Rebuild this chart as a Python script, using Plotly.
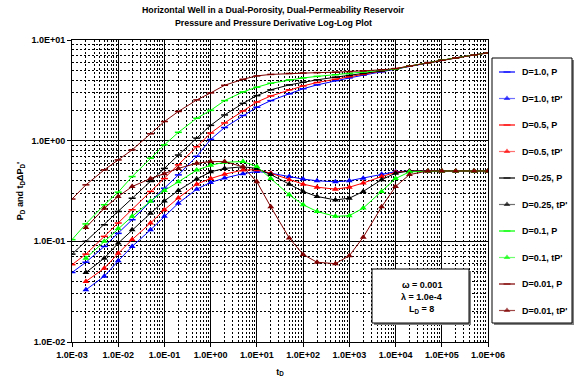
import plotly.graph_objects as go

# Dimensionless time for the pressure curves; the derivative curves start one point later
t_p = [1e-3, 2e-3, 5e-3, 1e-2, 2e-2, 5e-2, 0.1, 0.2, 0.5, 1, 2, 5, 10, 20, 50,
       100, 200, 500, 1e3, 2e3, 5e3, 1e4, 2e4, 5e4, 1e5, 2e5, 5e5, 1e6]
t_d = t_p[1:]

# Dimensionless pressure P_D
p_d100 = [0.049, 0.062, 0.089, 0.12, 0.164, 0.249, 0.337, 0.457, 0.70, 1.03, 1.35, 1.78, 2.15,
          2.5, 2.92, 3.28, 3.58, 3.95, 4.2, 4.47, 4.83, 5.15, 5.5, 5.95, 6.3, 6.65, 7.1, 7.45]
p_d050 = [0.0586, 0.0746, 0.112, 0.152, 0.206, 0.313, 0.42, 0.575, 0.87, 1.19, 1.5, 1.97, 2.42,
          2.78, 3.2, 3.5, 3.78, 4.08, 4.32, 4.55, 4.88, 5.15, 5.5, 5.95, 6.3, 6.65, 7.1, 7.45]
p_d025 = [0.0746, 0.1, 0.146, 0.198, 0.268, 0.393, 0.53, 0.72, 1.06, 1.42, 1.8, 2.35, 2.8,
          3.2, 3.58, 3.8, 4.02, 4.27, 4.45, 4.65, 4.92, 5.15, 5.5, 5.95, 6.3, 6.65, 7.1, 7.45]
p_d010 = [0.104, 0.149, 0.231, 0.308, 0.44, 0.67, 0.91, 1.21, 1.67, 2.0, 2.5, 3.05, 3.4,
          3.72, 4.02, 4.2, 4.35, 4.52, 4.65, 4.8, 5.0, 5.15, 5.5, 5.95, 6.3, 6.65, 7.1, 7.45]
p_d001 = [0.263, 0.364, 0.513, 0.644, 0.81, 1.17, 1.55, 1.95, 2.54, 2.98, 3.55, 4.07, 4.4,
          4.55, 4.65, 4.7, 4.74, 4.79, 4.85, 4.92, 5.05, 5.2, 5.5, 5.95, 6.3, 6.65, 7.1, 7.45]

# Pressure derivative t_D * dP_D/dt_D
dp_d100 = [0.033, 0.045, 0.064, 0.089, 0.13, 0.177, 0.239, 0.33, 0.385, 0.425, 0.47, 0.495, 0.475,
           0.44, 0.415, 0.40, 0.39, 0.40, 0.424, 0.465, 0.492, 0.5, 0.5, 0.5, 0.5, 0.5, 0.5]
dp_d050 = [0.040, 0.054, 0.076, 0.104, 0.152, 0.206, 0.27, 0.37, 0.42, 0.465, 0.51, 0.515, 0.475,
           0.41, 0.37, 0.345, 0.33, 0.345, 0.38, 0.44, 0.485, 0.5, 0.5, 0.5, 0.5, 0.5, 0.5]
dp_d025 = [0.049, 0.068, 0.096, 0.13, 0.19, 0.252, 0.32, 0.415, 0.49, 0.53, 0.55, 0.53, 0.46,
           0.37, 0.313, 0.279, 0.258, 0.268, 0.313, 0.41, 0.475, 0.5, 0.5, 0.5, 0.5, 0.5, 0.5]
dp_d010 = [0.068, 0.10, 0.134, 0.177, 0.25, 0.32, 0.39, 0.51, 0.57, 0.61, 0.62, 0.553, 0.42,
           0.29, 0.231, 0.198, 0.177, 0.18, 0.214, 0.313, 0.42, 0.49, 0.5, 0.5, 0.5, 0.5, 0.5]
dp_d001 = [0.137, 0.213, 0.279, 0.35, 0.42, 0.468, 0.53, 0.597, 0.62, 0.62, 0.55, 0.39, 0.22,
           0.108, 0.074, 0.062, 0.06, 0.072, 0.11, 0.22, 0.35, 0.46, 0.5, 0.5, 0.5, 0.5, 0.5]

x_tickvals = [1e-3, 1e-2, 1e-1, 1e0, 1e1, 1e2, 1e3, 1e4, 1e5, 1e6]
x_ticktext = ["1.0E-03", "1.0E-02", "1.0E-01", "1.0E+00", "1.0E+01",
              "1.0E+02", "1.0E+03", "1.0E+04", "1.0E+05", "1.0E+06"]
y_tickvals = [1e-2, 1e-1, 1e0, 1e1]
y_ticktext = ["1.0E-02", "1.0E-01", "1.0E+00", "1.0E+01"]

# name, times, values, colour, legend line colour, kind
series = [
    ("D=1.0, P", t_p, p_d100, "#0000FF", "#0000FF", "P"),
    ("D=1.0, tP'", t_d, dp_d100, "#0000FF", "#7070FF", "D"),
    ("D=0.5, P", t_p, p_d050, "#FF0000", "#FF0000", "P"),
    ("D=0.5, tP'", t_d, dp_d050, "#FF0000", "#FF7070", "D"),
    ("D=0.25, P", t_p, p_d025, "#000000", "#000000", "P"),
    ("D=0.25, tP'", t_d, dp_d025, "#000000", "#707070", "D"),
    ("D=0.1, P", t_p, p_d010, "#00FF00", "#00FF00", "P"),
    ("D=0.1, tP'", t_d, dp_d010, "#00FF00", "#70FF70", "D"),
    ("D=0.01, P", t_p, p_d001, "#800000", "#800000", "P"),
    ("D=0.01, tP'", t_d, dp_d001, "#800000", "#A04848", "D"),
]

FONT = "Arial, Liberation Sans, sans-serif"
WIDTH, HEIGHT = 574, 383

# Pixel helpers for a zero-margin page
def fx(xp):
    return xp / WIDTH

def fy(yp):
    return 1 - yp / HEIGHT

# Plot area (pixels) and legend panel (pixels)
PL, PR, PT, PB = 72, 488, 40, 342
LL, LR, LT, LB = 492, 572, 58, 323


def marker_for(kind, color, size_list=None):
    if kind == "P":
        return dict(symbol="line-ew", size=5 if size_list is None else size_list,
                    color=color, line=dict(color=color, width=1.5))
    return dict(symbol="triangle-up", size=6 if size_list is None else size_list,
                color=color, line=dict(width=0))


fig = go.Figure()
for name, x, y, color, lcolor, kind in series:
    fig.add_trace(go.Scatter(
        x=x, y=y, name=name, mode="lines+markers",
        line=dict(color=color, width=1), marker=marker_for(kind, color),
        showlegend=False, xaxis="x", yaxis="y",
    ))

# Legend panel drawn on its own pixel-scaled axes
item_y = [72 + 26.5 * i for i in range(len(series))]
for (name, x, y, color, lcolor, kind), iy in zip(series, item_y):
    fig.add_trace(go.Scatter(
        x=[499, 507, 515], y=[iy, iy, iy], mode="lines+markers",
        line=dict(color=lcolor, width=1.2),
        marker=marker_for(kind, color, [0, 5 if kind == "P" else 6, 0]),
        showlegend=False, hoverinfo="skip", xaxis="x2", yaxis="y2",
    ))
    fig.add_annotation(
        xref="x2", yref="y2", x=520, y=iy, text=name, showarrow=False,
        xanchor="left", yanchor="middle",
        font=dict(family=FONT, size=9, color="black", weight="bold"),
    )

axis_common = dict(
    type="log", showline=True, linecolor="black", linewidth=1, mirror=True,
    showgrid=True, gridcolor="black", gridwidth=1,
    ticks="outside", ticklen=4, tickcolor="black", tickwidth=1,
    tickfont=dict(family=FONT, size=9, color="black", weight="bold"),
    minor=dict(dtick="D1", showgrid=True, gridcolor="black", gridwidth=1,
               griddash="2px,2px", ticks=""),
    zeroline=False, fixedrange=True,
)

fig.update_layout(
    width=WIDTH, height=HEIGHT,
    margin=dict(l=0, r=0, t=0, b=0, autoexpand=False),
    paper_bgcolor="white", plot_bgcolor="white",
    font=dict(family=FONT, size=9, color="black"),
    showlegend=False,
    xaxis=dict(
        axis_common, domain=[fx(PL), fx(PR)], range=[-3, 6],
        tickvals=x_tickvals, ticktext=x_ticktext,
        title=dict(text="t<sub>D</sub>", standoff=9,
                   font=dict(family=FONT, size=9, weight="bold")),
    ),
    yaxis=dict(
        axis_common, domain=[fy(PB), fy(PT)], range=[-2, 1],
        tickvals=y_tickvals, ticktext=y_ticktext,
        title=dict(text="P<sub>D</sub> and t<sub>D</sub>ΔP<sub>D</sub>'", standoff=6,
                   font=dict(family=FONT, size=9, weight="bold")),
    ),
    xaxis2=dict(domain=[fx(LL), fx(LR)], range=[LL, LR], visible=False,
                fixedrange=True, anchor="y2"),
    yaxis2=dict(domain=[fy(LB), fy(LT)], range=[LB, LT], visible=False,
                fixedrange=True, anchor="x2"),
)

# Two-line chart title
for text, ty in [("Horizontal Well in a Dual-Porosity, Dual-Permeability Reservoir", 10),
                 ("Pressure and Pressure Derivative Log-Log Plot", 23)]:
    fig.add_annotation(
        xref="paper", yref="paper", x=fx(273), y=fy(ty), text=text, showarrow=False,
        xanchor="center", yanchor="middle",
        font=dict(family=FONT, size=8.8, color="black", weight="bold"),
    )

# Legend frame with drop shadow
fig.add_shape(type="rect", xref="paper", yref="paper",
              x0=fx(LL + 2), x1=fx(LR + 2), y0=fy(LB + 2), y1=fy(LT + 2),
              fillcolor="#808080", line=dict(width=0), layer="below")
fig.add_shape(type="rect", xref="paper", yref="paper",
              x0=fx(LL), x1=fx(LR), y0=fy(LB), y1=fy(LT),
              fillcolor="white", line=dict(color="black", width=1), layer="below")

# Parameter box with drop shadow
bx0, bx1, by0, by1 = 372, 469, 269, 323
fig.add_shape(type="rect", xref="paper", yref="paper",
              x0=fx(bx0 + 2), x1=fx(bx1 + 2), y0=fy(by1 + 2), y1=fy(by0 + 2),
              fillcolor="#808080", line=dict(width=0), layer="above")
fig.add_shape(type="rect", xref="paper", yref="paper",
              x0=fx(bx0), x1=fx(bx1), y0=fy(by1), y1=fy(by0),
              fillcolor="white", line=dict(color="black", width=1), layer="above")
for text, ty in [("ω = 0.001", 284.5), ("λ = 1.0e-4", 297), ("L<sub>D</sub> = 8", 309.5)]:
    fig.add_annotation(
        xref="paper", yref="paper", x=fx((bx0 + bx1) / 2 + 1), y=fy(ty), text=text,
        showarrow=False, xanchor="center", yanchor="middle",
        font=dict(family=FONT, size=9, color="black", weight="bold"),
    )

fig.write_html("out.html")
